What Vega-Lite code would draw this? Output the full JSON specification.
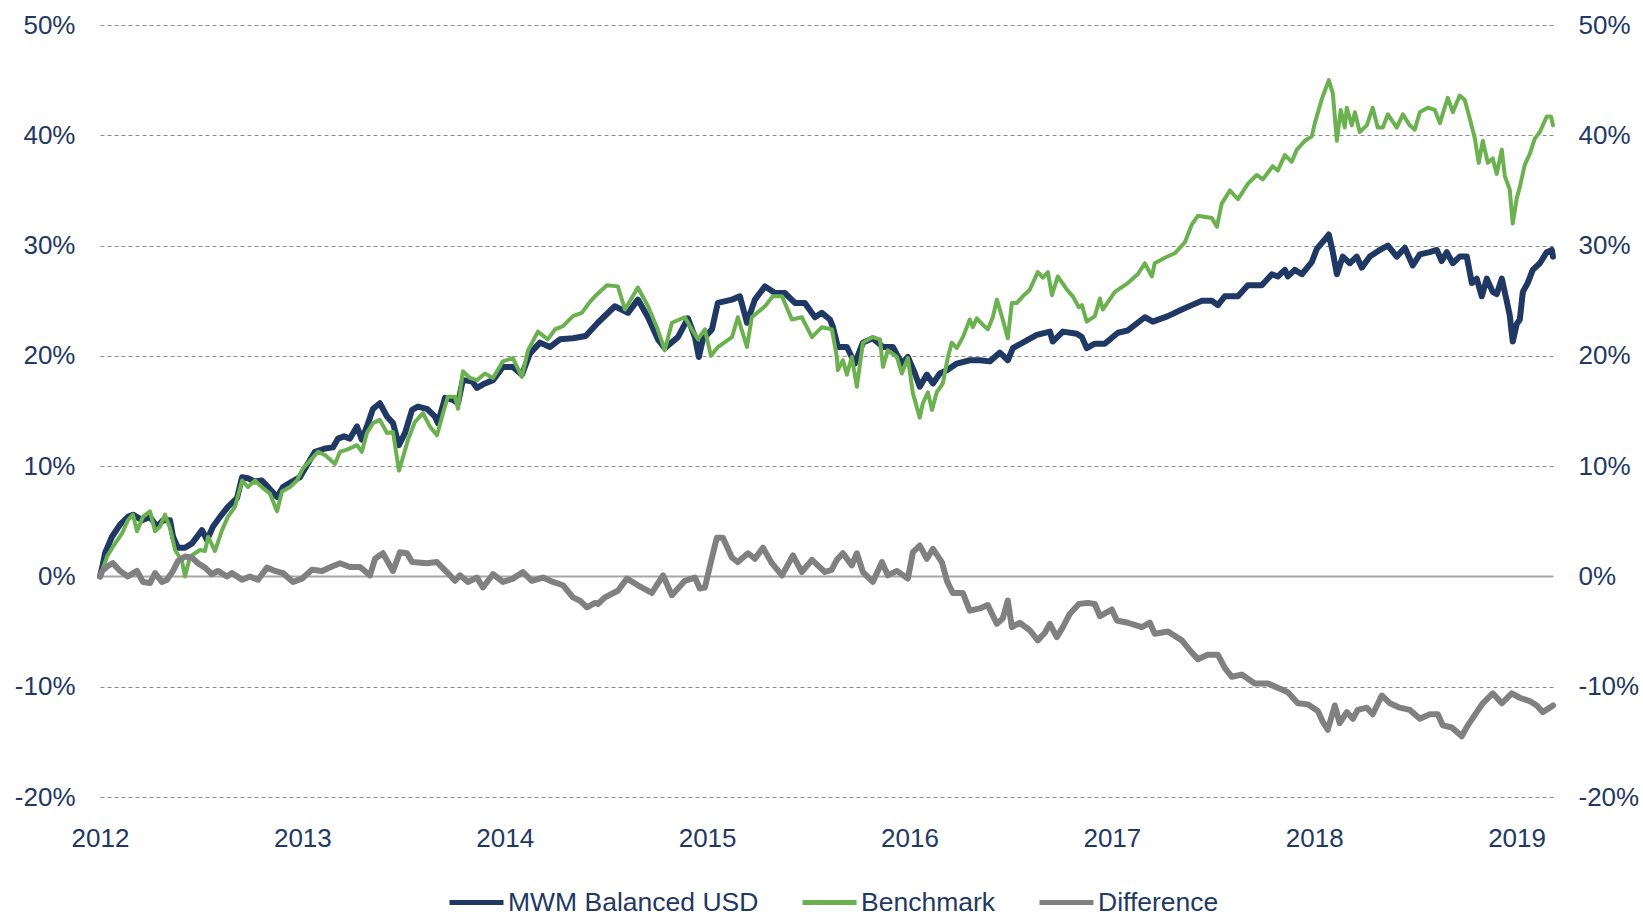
{
  "$schema": "https://vega.github.io/schema/vega-lite/v6.json",
  "width": 1453,
  "height": 772,
  "autosize": {"type": "none"},
  "padding": {"left": 100, "top": 25, "right": 90, "bottom": 119},
  "config": {"font": "Liberation Sans", "view": {"stroke": null}},
  "datasets": {
    "mwm": [
      {"year":2012.000,"pct":0.0},{"year":2012.012,"pct":0.9},{"year":2012.025,"pct":2.1},{"year":2012.059,"pct":3.6},{"year":2012.099,"pct":4.7},{"year":2012.138,"pct":5.4},{"year":2012.163,"pct":5.6},{"year":2012.208,"pct":5.1},{"year":2012.247,"pct":5.4},{"year":2012.282,"pct":4.5},{"year":2012.311,"pct":5.1},{"year":2012.346,"pct":5.1},{"year":2012.361,"pct":3.6},{"year":2012.385,"pct":2.6},{"year":2012.420,"pct":2.6},{"year":2012.455,"pct":3.0},{"year":2012.504,"pct":4.2},{"year":2012.529,"pct":3.3},{"year":2012.558,"pct":4.5},{"year":2012.593,"pct":5.4},{"year":2012.632,"pct":6.3},{"year":2012.677,"pct":7.1},{"year":2012.702,"pct":9.0},{"year":2012.731,"pct":8.9},{"year":2012.766,"pct":8.6},{"year":2012.800,"pct":8.7},{"year":2012.830,"pct":8.1},{"year":2012.875,"pct":7.2},{"year":2012.904,"pct":8.1},{"year":2012.949,"pct":8.6},{"year":2012.988,"pct":9.0},{"year":2013.023,"pct":10.1},{"year":2013.062,"pct":11.3},{"year":2013.112,"pct":11.6},{"year":2013.151,"pct":11.7},{"year":2013.176,"pct":12.5},{"year":2013.206,"pct":12.7},{"year":2013.235,"pct":12.5},{"year":2013.270,"pct":13.6},{"year":2013.294,"pct":12.4},{"year":2013.319,"pct":13.6},{"year":2013.349,"pct":15.2},{"year":2013.383,"pct":15.7},{"year":2013.418,"pct":14.5},{"year":2013.448,"pct":13.9},{"year":2013.477,"pct":11.9},{"year":2013.507,"pct":13.0},{"year":2013.542,"pct":15.1},{"year":2013.571,"pct":15.4},{"year":2013.616,"pct":15.2},{"year":2013.655,"pct":14.5},{"year":2013.670,"pct":13.9},{"year":2013.705,"pct":16.2},{"year":2013.744,"pct":16.0},{"year":2013.769,"pct":15.7},{"year":2013.793,"pct":17.8},{"year":2013.838,"pct":17.7},{"year":2013.863,"pct":17.1},{"year":2013.902,"pct":17.5},{"year":2013.942,"pct":17.8},{"year":2013.991,"pct":19.0},{"year":2014.040,"pct":19.0},{"year":2014.085,"pct":18.3},{"year":2014.124,"pct":20.2},{"year":2014.174,"pct":21.2},{"year":2014.223,"pct":20.8},{"year":2014.273,"pct":21.5},{"year":2014.337,"pct":21.6},{"year":2014.400,"pct":21.8},{"year":2014.460,"pct":23.0},{"year":2014.544,"pct":24.5},{"year":2014.609,"pct":23.9},{"year":2014.658,"pct":25.1},{"year":2014.708,"pct":23.5},{"year":2014.757,"pct":21.5},{"year":2014.791,"pct":20.7},{"year":2014.856,"pct":21.7},{"year":2014.905,"pct":23.4},{"year":2014.940,"pct":21.7},{"year":2014.959,"pct":19.9},{"year":2014.979,"pct":21.5},{"year":2015.024,"pct":22.4},{"year":2015.053,"pct":24.8},{"year":2015.123,"pct":25.1},{"year":2015.162,"pct":25.4},{"year":2015.197,"pct":23.0},{"year":2015.236,"pct":25.1},{"year":2015.286,"pct":26.3},{"year":2015.335,"pct":25.7},{"year":2015.384,"pct":25.7},{"year":2015.434,"pct":24.8},{"year":2015.483,"pct":24.8},{"year":2015.533,"pct":23.5},{"year":2015.567,"pct":23.9},{"year":2015.607,"pct":23.3},{"year":2015.622,"pct":22.6},{"year":2015.646,"pct":20.8},{"year":2015.691,"pct":20.8},{"year":2015.730,"pct":19.3},{"year":2015.770,"pct":21.2},{"year":2015.819,"pct":21.6},{"year":2015.869,"pct":20.8},{"year":2015.918,"pct":20.8},{"year":2015.962,"pct":19.3},{"year":2015.992,"pct":19.9},{"year":2016.027,"pct":18.4},{"year":2016.051,"pct":17.2},{"year":2016.086,"pct":18.3},{"year":2016.116,"pct":17.5},{"year":2016.150,"pct":18.4},{"year":2016.185,"pct":18.7},{"year":2016.234,"pct":19.3},{"year":2016.298,"pct":19.6},{"year":2016.348,"pct":19.6},{"year":2016.397,"pct":19.5},{"year":2016.447,"pct":20.3},{"year":2016.486,"pct":19.6},{"year":2016.511,"pct":20.7},{"year":2016.560,"pct":21.2},{"year":2016.629,"pct":21.9},{"year":2016.694,"pct":22.2},{"year":2016.708,"pct":21.3},{"year":2016.758,"pct":22.2},{"year":2016.827,"pct":22.0},{"year":2016.852,"pct":21.7},{"year":2016.876,"pct":20.7},{"year":2016.916,"pct":21.1},{"year":2016.965,"pct":21.1},{"year":2017.030,"pct":22.1},{"year":2017.079,"pct":22.3},{"year":2017.163,"pct":23.5},{"year":2017.203,"pct":23.1},{"year":2017.277,"pct":23.6},{"year":2017.346,"pct":24.2},{"year":2017.395,"pct":24.6},{"year":2017.445,"pct":25.0},{"year":2017.494,"pct":25.0},{"year":2017.524,"pct":24.6},{"year":2017.558,"pct":25.4},{"year":2017.623,"pct":25.4},{"year":2017.672,"pct":26.4},{"year":2017.741,"pct":26.4},{"year":2017.791,"pct":27.4},{"year":2017.820,"pct":27.2},{"year":2017.855,"pct":27.8},{"year":2017.870,"pct":27.2},{"year":2017.904,"pct":27.8},{"year":2017.939,"pct":27.4},{"year":2017.988,"pct":28.5},{"year":2018.013,"pct":29.7},{"year":2018.050,"pct":30.5},{"year":2018.072,"pct":31.0},{"year":2018.092,"pct":29.4},{"year":2018.112,"pct":27.4},{"year":2018.141,"pct":29.0},{"year":2018.176,"pct":28.4},{"year":2018.210,"pct":29.0},{"year":2018.235,"pct":28.0},{"year":2018.275,"pct":29.0},{"year":2018.324,"pct":29.6},{"year":2018.364,"pct":30.0},{"year":2018.408,"pct":29.0},{"year":2018.448,"pct":29.8},{"year":2018.487,"pct":28.2},{"year":2018.522,"pct":29.2},{"year":2018.571,"pct":29.4},{"year":2018.606,"pct":29.6},{"year":2018.630,"pct":28.6},{"year":2018.655,"pct":29.4},{"year":2018.685,"pct":28.4},{"year":2018.719,"pct":29.0},{"year":2018.754,"pct":29.0},{"year":2018.779,"pct":26.6},{"year":2018.803,"pct":27.0},{"year":2018.828,"pct":25.4},{"year":2018.853,"pct":27.0},{"year":2018.882,"pct":25.8},{"year":2018.902,"pct":25.6},{"year":2018.927,"pct":27.0},{"year":2018.951,"pct":25.0},{"year":2018.966,"pct":23.7},{"year":2018.981,"pct":21.3},{"year":2019.001,"pct":22.9},{"year":2019.016,"pct":23.3},{"year":2019.031,"pct":25.8},{"year":2019.055,"pct":26.6},{"year":2019.080,"pct":27.8},{"year":2019.115,"pct":28.4},{"year":2019.149,"pct":29.4},{"year":2019.174,"pct":29.6},{"year":2019.180,"pct":29.0}
    ],
    "bench": [
      {"year":2012.000,"pct":0.0},{"year":2012.012,"pct":0.6},{"year":2012.035,"pct":1.8},{"year":2012.064,"pct":2.7},{"year":2012.109,"pct":3.9},{"year":2012.138,"pct":5.1},{"year":2012.163,"pct":5.6},{"year":2012.183,"pct":4.1},{"year":2012.212,"pct":5.4},{"year":2012.247,"pct":5.9},{"year":2012.272,"pct":4.1},{"year":2012.296,"pct":4.5},{"year":2012.321,"pct":5.6},{"year":2012.346,"pct":4.4},{"year":2012.371,"pct":2.4},{"year":2012.405,"pct":1.4},{"year":2012.420,"pct":0.0},{"year":2012.445,"pct":1.8},{"year":2012.469,"pct":2.1},{"year":2012.494,"pct":2.4},{"year":2012.519,"pct":2.3},{"year":2012.534,"pct":3.6},{"year":2012.568,"pct":2.3},{"year":2012.603,"pct":4.2},{"year":2012.632,"pct":5.4},{"year":2012.667,"pct":6.3},{"year":2012.702,"pct":8.7},{"year":2012.731,"pct":8.1},{"year":2012.766,"pct":8.7},{"year":2012.800,"pct":8.1},{"year":2012.840,"pct":7.5},{"year":2012.875,"pct":5.9},{"year":2012.899,"pct":7.7},{"year":2012.939,"pct":8.1},{"year":2012.973,"pct":8.7},{"year":2013.003,"pct":9.8},{"year":2013.038,"pct":10.5},{"year":2013.077,"pct":11.3},{"year":2013.112,"pct":11.0},{"year":2013.161,"pct":10.2},{"year":2013.186,"pct":11.3},{"year":2013.220,"pct":11.5},{"year":2013.270,"pct":11.9},{"year":2013.294,"pct":11.3},{"year":2013.319,"pct":13.0},{"year":2013.349,"pct":13.9},{"year":2013.383,"pct":14.2},{"year":2013.418,"pct":13.0},{"year":2013.448,"pct":13.1},{"year":2013.477,"pct":9.6},{"year":2013.497,"pct":10.8},{"year":2013.522,"pct":12.4},{"year":2013.556,"pct":14.0},{"year":2013.596,"pct":14.8},{"year":2013.630,"pct":13.6},{"year":2013.665,"pct":12.8},{"year":2013.695,"pct":14.8},{"year":2013.719,"pct":16.3},{"year":2013.754,"pct":16.3},{"year":2013.769,"pct":15.2},{"year":2013.793,"pct":18.6},{"year":2013.828,"pct":18.0},{"year":2013.863,"pct":17.8},{"year":2013.902,"pct":18.4},{"year":2013.942,"pct":18.0},{"year":2013.991,"pct":19.5},{"year":2014.040,"pct":19.8},{"year":2014.085,"pct":18.1},{"year":2014.115,"pct":20.5},{"year":2014.164,"pct":22.2},{"year":2014.213,"pct":21.5},{"year":2014.248,"pct":22.4},{"year":2014.288,"pct":22.7},{"year":2014.337,"pct":23.6},{"year":2014.381,"pct":23.9},{"year":2014.421,"pct":24.9},{"year":2014.446,"pct":25.4},{"year":2014.505,"pct":26.4},{"year":2014.559,"pct":26.3},{"year":2014.594,"pct":24.2},{"year":2014.658,"pct":26.2},{"year":2014.708,"pct":24.5},{"year":2014.752,"pct":22.6},{"year":2014.791,"pct":20.5},{"year":2014.826,"pct":23.0},{"year":2014.890,"pct":23.5},{"year":2014.925,"pct":22.4},{"year":2014.955,"pct":21.5},{"year":2014.989,"pct":22.4},{"year":2015.019,"pct":20.0},{"year":2015.053,"pct":20.8},{"year":2015.123,"pct":21.7},{"year":2015.152,"pct":23.5},{"year":2015.197,"pct":20.8},{"year":2015.221,"pct":23.5},{"year":2015.286,"pct":24.5},{"year":2015.325,"pct":25.4},{"year":2015.370,"pct":25.4},{"year":2015.419,"pct":23.3},{"year":2015.468,"pct":23.5},{"year":2015.518,"pct":21.7},{"year":2015.567,"pct":22.6},{"year":2015.617,"pct":22.4},{"year":2015.641,"pct":19.9},{"year":2015.646,"pct":18.7},{"year":2015.671,"pct":19.6},{"year":2015.691,"pct":18.3},{"year":2015.715,"pct":19.9},{"year":2015.740,"pct":17.2},{"year":2015.770,"pct":21.2},{"year":2015.819,"pct":21.7},{"year":2015.854,"pct":21.5},{"year":2015.869,"pct":19.0},{"year":2015.893,"pct":20.5},{"year":2015.938,"pct":19.9},{"year":2015.962,"pct":18.4},{"year":2015.992,"pct":19.8},{"year":2016.017,"pct":16.6},{"year":2016.051,"pct":14.4},{"year":2016.066,"pct":15.7},{"year":2016.091,"pct":16.7},{"year":2016.111,"pct":15.1},{"year":2016.135,"pct":16.7},{"year":2016.165,"pct":17.5},{"year":2016.190,"pct":19.9},{"year":2016.209,"pct":21.2},{"year":2016.234,"pct":20.7},{"year":2016.264,"pct":21.7},{"year":2016.298,"pct":23.3},{"year":2016.313,"pct":22.6},{"year":2016.333,"pct":23.4},{"year":2016.363,"pct":22.8},{"year":2016.387,"pct":22.4},{"year":2016.412,"pct":23.5},{"year":2016.432,"pct":25.1},{"year":2016.461,"pct":23.3},{"year":2016.486,"pct":21.6},{"year":2016.506,"pct":24.8},{"year":2016.531,"pct":24.8},{"year":2016.560,"pct":25.4},{"year":2016.595,"pct":26.0},{"year":2016.634,"pct":27.6},{"year":2016.659,"pct":27.1},{"year":2016.684,"pct":27.6},{"year":2016.704,"pct":25.5},{"year":2016.733,"pct":27.2},{"year":2016.778,"pct":26.0},{"year":2016.807,"pct":25.4},{"year":2016.837,"pct":24.4},{"year":2016.852,"pct":24.6},{"year":2016.876,"pct":23.1},{"year":2016.916,"pct":23.6},{"year":2016.941,"pct":25.2},{"year":2016.955,"pct":24.2},{"year":2017.015,"pct":25.8},{"year":2017.079,"pct":26.6},{"year":2017.128,"pct":27.4},{"year":2017.163,"pct":28.4},{"year":2017.198,"pct":27.2},{"year":2017.212,"pct":28.4},{"year":2017.262,"pct":28.9},{"year":2017.311,"pct":29.3},{"year":2017.361,"pct":30.3},{"year":2017.395,"pct":31.9},{"year":2017.425,"pct":32.7},{"year":2017.494,"pct":32.5},{"year":2017.519,"pct":31.7},{"year":2017.543,"pct":33.8},{"year":2017.583,"pct":35.0},{"year":2017.623,"pct":34.2},{"year":2017.672,"pct":35.6},{"year":2017.716,"pct":36.4},{"year":2017.746,"pct":36.0},{"year":2017.795,"pct":37.2},{"year":2017.820,"pct":36.8},{"year":2017.855,"pct":38.2},{"year":2017.889,"pct":37.6},{"year":2017.914,"pct":38.7},{"year":2017.954,"pct":39.5},{"year":2017.988,"pct":39.9},{"year":2018.003,"pct":41.1},{"year":2018.038,"pct":43.3},{"year":2018.052,"pct":44.0},{"year":2018.072,"pct":45.0},{"year":2018.092,"pct":43.8},{"year":2018.112,"pct":39.5},{"year":2018.131,"pct":42.3},{"year":2018.151,"pct":40.7},{"year":2018.161,"pct":42.5},{"year":2018.186,"pct":40.9},{"year":2018.201,"pct":42.1},{"year":2018.225,"pct":40.3},{"year":2018.260,"pct":40.9},{"year":2018.289,"pct":42.5},{"year":2018.314,"pct":40.7},{"year":2018.339,"pct":40.7},{"year":2018.364,"pct":41.9},{"year":2018.408,"pct":40.7},{"year":2018.438,"pct":41.9},{"year":2018.472,"pct":40.9},{"year":2018.497,"pct":40.5},{"year":2018.522,"pct":42.1},{"year":2018.561,"pct":42.5},{"year":2018.596,"pct":42.3},{"year":2018.621,"pct":41.1},{"year":2018.660,"pct":43.4},{"year":2018.685,"pct":42.1},{"year":2018.719,"pct":43.6},{"year":2018.744,"pct":43.2},{"year":2018.769,"pct":41.5},{"year":2018.794,"pct":39.7},{"year":2018.813,"pct":37.5},{"year":2018.833,"pct":39.5},{"year":2018.858,"pct":37.5},{"year":2018.882,"pct":37.9},{"year":2018.902,"pct":36.5},{"year":2018.927,"pct":38.7},{"year":2018.942,"pct":36.3},{"year":2018.966,"pct":35.1},{"year":2018.981,"pct":32.0},{"year":2019.001,"pct":34.3},{"year":2019.016,"pct":35.3},{"year":2019.040,"pct":37.3},{"year":2019.065,"pct":38.3},{"year":2019.090,"pct":39.7},{"year":2019.115,"pct":40.3},{"year":2019.149,"pct":41.7},{"year":2019.170,"pct":41.7},{"year":2019.180,"pct":40.9}
    ],
    "diff": [
      {"year":2012.000,"pct":0.0},{"year":2012.012,"pct":0.5},{"year":2012.035,"pct":0.9},{"year":2012.064,"pct":1.2},{"year":2012.099,"pct":0.5},{"year":2012.138,"pct":0.0},{"year":2012.183,"pct":0.5},{"year":2012.212,"pct":-0.5},{"year":2012.247,"pct":-0.6},{"year":2012.272,"pct":0.3},{"year":2012.306,"pct":-0.5},{"year":2012.331,"pct":-0.3},{"year":2012.361,"pct":0.5},{"year":2012.385,"pct":1.4},{"year":2012.420,"pct":1.8},{"year":2012.455,"pct":1.7},{"year":2012.484,"pct":1.2},{"year":2012.519,"pct":0.8},{"year":2012.553,"pct":0.2},{"year":2012.583,"pct":0.5},{"year":2012.627,"pct":0.0},{"year":2012.652,"pct":0.3},{"year":2012.702,"pct":-0.3},{"year":2012.741,"pct":0.0},{"year":2012.781,"pct":-0.3},{"year":2012.825,"pct":0.8},{"year":2012.865,"pct":0.5},{"year":2012.904,"pct":0.3},{"year":2012.954,"pct":-0.5},{"year":2012.998,"pct":-0.2},{"year":2013.047,"pct":0.6},{"year":2013.097,"pct":0.5},{"year":2013.146,"pct":0.9},{"year":2013.186,"pct":1.2},{"year":2013.235,"pct":0.85},{"year":2013.285,"pct":0.85},{"year":2013.334,"pct":0.1},{"year":2013.359,"pct":1.6},{"year":2013.398,"pct":2.1},{"year":2013.448,"pct":0.5},{"year":2013.482,"pct":2.2},{"year":2013.517,"pct":2.1},{"year":2013.542,"pct":1.3},{"year":2013.616,"pct":1.2},{"year":2013.665,"pct":1.3},{"year":2013.714,"pct":0.4},{"year":2013.754,"pct":-0.4},{"year":2013.779,"pct":0.1},{"year":2013.818,"pct":-0.5},{"year":2013.863,"pct":-0.1},{"year":2013.892,"pct":-1.0},{"year":2013.942,"pct":0.2},{"year":2013.991,"pct":-0.5},{"year":2014.040,"pct":-0.2},{"year":2014.090,"pct":0.4},{"year":2014.134,"pct":-0.4},{"year":2014.189,"pct":-0.1},{"year":2014.238,"pct":-0.5},{"year":2014.288,"pct":-0.8},{"year":2014.337,"pct":-1.9},{"year":2014.372,"pct":-2.2},{"year":2014.406,"pct":-2.8},{"year":2014.446,"pct":-2.4},{"year":2014.460,"pct":-2.5},{"year":2014.495,"pct":-1.9},{"year":2014.559,"pct":-1.3},{"year":2014.604,"pct":-0.2},{"year":2014.658,"pct":-0.8},{"year":2014.727,"pct":-1.5},{"year":2014.782,"pct":0.1},{"year":2014.826,"pct":-1.7},{"year":2014.890,"pct":-0.4},{"year":2014.940,"pct":-0.1},{"year":2014.964,"pct":-1.1},{"year":2014.989,"pct":-1.0},{"year":2015.024,"pct":1.7},{"year":2015.048,"pct":3.5},{"year":2015.078,"pct":3.5},{"year":2015.123,"pct":1.7},{"year":2015.152,"pct":1.3},{"year":2015.202,"pct":2.1},{"year":2015.236,"pct":1.6},{"year":2015.276,"pct":2.6},{"year":2015.320,"pct":1.2},{"year":2015.370,"pct":0.1},{"year":2015.424,"pct":1.9},{"year":2015.468,"pct":0.4},{"year":2015.518,"pct":1.5},{"year":2015.582,"pct":0.4},{"year":2015.615,"pct":0.6},{"year":2015.641,"pct":1.5},{"year":2015.671,"pct":2.1},{"year":2015.715,"pct":1.0},{"year":2015.740,"pct":2.1},{"year":2015.770,"pct":0.4},{"year":2015.819,"pct":-0.5},{"year":2015.864,"pct":1.3},{"year":2015.893,"pct":0.1},{"year":2015.938,"pct":0.5},{"year":2015.992,"pct":-0.2},{"year":2016.017,"pct":2.2},{"year":2016.051,"pct":2.8},{"year":2016.086,"pct":1.6},{"year":2016.116,"pct":2.5},{"year":2016.160,"pct":1.3},{"year":2016.185,"pct":-0.4},{"year":2016.214,"pct":-1.5},{"year":2016.264,"pct":-1.5},{"year":2016.298,"pct":-3.1},{"year":2016.348,"pct":-2.9},{"year":2016.387,"pct":-2.6},{"year":2016.432,"pct":-4.3},{"year":2016.461,"pct":-3.8},{"year":2016.486,"pct":-2.2},{"year":2016.506,"pct":-4.6},{"year":2016.545,"pct":-4.2},{"year":2016.595,"pct":-4.9},{"year":2016.634,"pct":-5.8},{"year":2016.669,"pct":-5.1},{"year":2016.694,"pct":-4.3},{"year":2016.728,"pct":-5.5},{"year":2016.758,"pct":-4.6},{"year":2016.792,"pct":-3.4},{"year":2016.837,"pct":-2.5},{"year":2016.881,"pct":-2.4},{"year":2016.916,"pct":-2.5},{"year":2016.941,"pct":-3.6},{"year":2017.000,"pct":-3.0},{"year":2017.025,"pct":-4.0},{"year":2017.079,"pct":-4.2},{"year":2017.148,"pct":-4.6},{"year":2017.188,"pct":-4.2},{"year":2017.212,"pct":-5.2},{"year":2017.277,"pct":-5.0},{"year":2017.346,"pct":-5.8},{"year":2017.395,"pct":-6.9},{"year":2017.425,"pct":-7.5},{"year":2017.474,"pct":-7.1},{"year":2017.524,"pct":-7.1},{"year":2017.558,"pct":-8.3},{"year":2017.593,"pct":-9.1},{"year":2017.642,"pct":-8.9},{"year":2017.706,"pct":-9.7},{"year":2017.771,"pct":-9.7},{"year":2017.820,"pct":-10.1},{"year":2017.870,"pct":-10.5},{"year":2017.919,"pct":-11.5},{"year":2017.968,"pct":-11.6},{"year":2018.018,"pct":-12.2},{"year":2018.043,"pct":-13.2},{"year":2018.067,"pct":-13.9},{"year":2018.102,"pct":-11.7},{"year":2018.126,"pct":-13.3},{"year":2018.161,"pct":-12.3},{"year":2018.191,"pct":-12.9},{"year":2018.215,"pct":-12.1},{"year":2018.260,"pct":-11.9},{"year":2018.289,"pct":-12.5},{"year":2018.334,"pct":-10.8},{"year":2018.374,"pct":-11.5},{"year":2018.423,"pct":-11.9},{"year":2018.472,"pct":-12.1},{"year":2018.522,"pct":-12.9},{"year":2018.571,"pct":-12.5},{"year":2018.611,"pct":-12.5},{"year":2018.635,"pct":-13.5},{"year":2018.680,"pct":-13.7},{"year":2018.729,"pct":-14.5},{"year":2018.759,"pct":-13.5},{"year":2018.803,"pct":-12.3},{"year":2018.833,"pct":-11.5},{"year":2018.882,"pct":-10.6},{"year":2018.927,"pct":-11.5},{"year":2018.976,"pct":-10.6},{"year":2019.016,"pct":-11.0},{"year":2019.065,"pct":-11.3},{"year":2019.100,"pct":-11.7},{"year":2019.129,"pct":-12.3},{"year":2019.164,"pct":-11.9},{"year":2019.180,"pct":-11.7}
    ]
  },
  "layer": [
    {
      "data": {"values": [{}]},
      "mark": {"type": "rule", "color": "#A6A6A6", "strokeWidth": 2},
      "encoding": {
        "y": {
          "datum": 0, "type": "quantitative",
          "scale": {"domain": [-20, 50], "nice": false, "zero": false},
          "axis": {"orient": "right", "values": [-20,-10,0,10,20,30,40,50], "labelExpr": "datum.value + '%'", "grid": false, "domain": false, "ticks": false, "tickSize": 0, "labelPadding": 25, "labelFontSize": 26, "labelColor": "#1F3864", "labelFont": "Liberation Sans", "labelFlush": false, "title": null}
        }
      }
    },
    {
      "layer": [
        {
          "data": {"name": "mwm"},
          "mark": {"type": "line", "strokeWidth": 6, "strokeJoin": "round", "strokeCap": "round"},
          "encoding": {
            "x": {"field": "year", "type": "quantitative", "scale": {"domain": [2012, 2019.18], "nice": false, "zero": false}, "axis": {"values": [2012,2013,2014,2015,2016,2017,2018,2019], "format": "d", "grid": false, "domain": false, "ticks": false, "tickSize": 0, "labelPadding": 28, "labelFontSize": 26, "labelColor": "#1F3864", "labelFont": "Liberation Sans", "labelFlush": false, "labelOverlap": false, "title": null}},
            "y": {"field": "pct", "type": "quantitative", "scale": {"domain": [-20, 50], "nice": false, "zero": false}, "axis": {"orient": "left", "values": [-20,-10,0,10,20,30,40,50], "labelExpr": "datum.value + '%'", "grid": true, "gridColor": "#8C8C8C", "gridDash": [4, 3], "gridWidth": 1, "domain": false, "ticks": false, "tickSize": 0, "labelPadding": 25, "labelFontSize": 26, "labelColor": "#1F3864", "labelFont": "Liberation Sans", "labelFlush": false, "title": null}},
            "color": {"datum": "MWM Balanced USD", "type": "nominal", "scale": {"domain": ["MWM Balanced USD", "Benchmark", "Difference"], "range": ["#1F3864", "#6BB14F", "#808080"]}, "legend": {"orient": "none", "legendX": 347, "legendY": 848, "direction": "horizontal", "title": null, "symbolType": "stroke", "symbolSize": 2916, "symbolStrokeWidth": 5, "labelFontSize": 26.5, "labelColor": "#1F3864", "labelFont": "Liberation Sans", "labelOffset": 2, "labelLimit": 0, "columnPadding": 33, "padding": 0}}
          }
        },
        {
          "data": {"name": "bench"},
          "mark": {"type": "line", "strokeWidth": 4, "strokeJoin": "round", "strokeCap": "round"},
          "encoding": {
            "x": {"field": "year", "type": "quantitative", "scale": {"domain": [2012, 2019.18], "nice": false, "zero": false}, "axis": {"values": [2012,2013,2014,2015,2016,2017,2018,2019], "format": "d", "grid": false, "domain": false, "ticks": false, "tickSize": 0, "labelPadding": 28, "labelFontSize": 26, "labelColor": "#1F3864", "labelFont": "Liberation Sans", "labelFlush": false, "labelOverlap": false, "title": null}},
            "y": {"field": "pct", "type": "quantitative", "scale": {"domain": [-20, 50], "nice": false, "zero": false}, "axis": {"orient": "left", "values": [-20,-10,0,10,20,30,40,50], "labelExpr": "datum.value + '%'", "grid": true, "gridColor": "#8C8C8C", "gridDash": [4, 3], "gridWidth": 1, "domain": false, "ticks": false, "tickSize": 0, "labelPadding": 25, "labelFontSize": 26, "labelColor": "#1F3864", "labelFont": "Liberation Sans", "labelFlush": false, "title": null}},
            "color": {"datum": "Benchmark", "type": "nominal", "scale": {"domain": ["MWM Balanced USD", "Benchmark", "Difference"], "range": ["#1F3864", "#6BB14F", "#808080"]}, "legend": {"orient": "none", "legendX": 347, "legendY": 848, "direction": "horizontal", "title": null, "symbolType": "stroke", "symbolSize": 2916, "symbolStrokeWidth": 5, "labelFontSize": 26.5, "labelColor": "#1F3864", "labelFont": "Liberation Sans", "labelOffset": 2, "labelLimit": 0, "columnPadding": 33, "padding": 0}}
          }
        },
        {
          "data": {"name": "diff"},
          "mark": {"type": "line", "strokeWidth": 6, "strokeJoin": "round", "strokeCap": "round"},
          "encoding": {
            "x": {"field": "year", "type": "quantitative", "scale": {"domain": [2012, 2019.18], "nice": false, "zero": false}, "axis": {"values": [2012,2013,2014,2015,2016,2017,2018,2019], "format": "d", "grid": false, "domain": false, "ticks": false, "tickSize": 0, "labelPadding": 28, "labelFontSize": 26, "labelColor": "#1F3864", "labelFont": "Liberation Sans", "labelFlush": false, "labelOverlap": false, "title": null}},
            "y": {"field": "pct", "type": "quantitative", "scale": {"domain": [-20, 50], "nice": false, "zero": false}, "axis": {"orient": "left", "values": [-20,-10,0,10,20,30,40,50], "labelExpr": "datum.value + '%'", "grid": true, "gridColor": "#8C8C8C", "gridDash": [4, 3], "gridWidth": 1, "domain": false, "ticks": false, "tickSize": 0, "labelPadding": 25, "labelFontSize": 26, "labelColor": "#1F3864", "labelFont": "Liberation Sans", "labelFlush": false, "title": null}},
            "color": {"datum": "Difference", "type": "nominal", "scale": {"domain": ["MWM Balanced USD", "Benchmark", "Difference"], "range": ["#1F3864", "#6BB14F", "#808080"]}, "legend": {"orient": "none", "legendX": 347, "legendY": 848, "direction": "horizontal", "title": null, "symbolType": "stroke", "symbolSize": 2916, "symbolStrokeWidth": 5, "labelFontSize": 26.5, "labelColor": "#1F3864", "labelFont": "Liberation Sans", "labelOffset": 2, "labelLimit": 0, "columnPadding": 33, "padding": 0}}
          }
        }
      ]
    }
  ],
  "resolve": {"axis": {"y": "independent"}}
}
